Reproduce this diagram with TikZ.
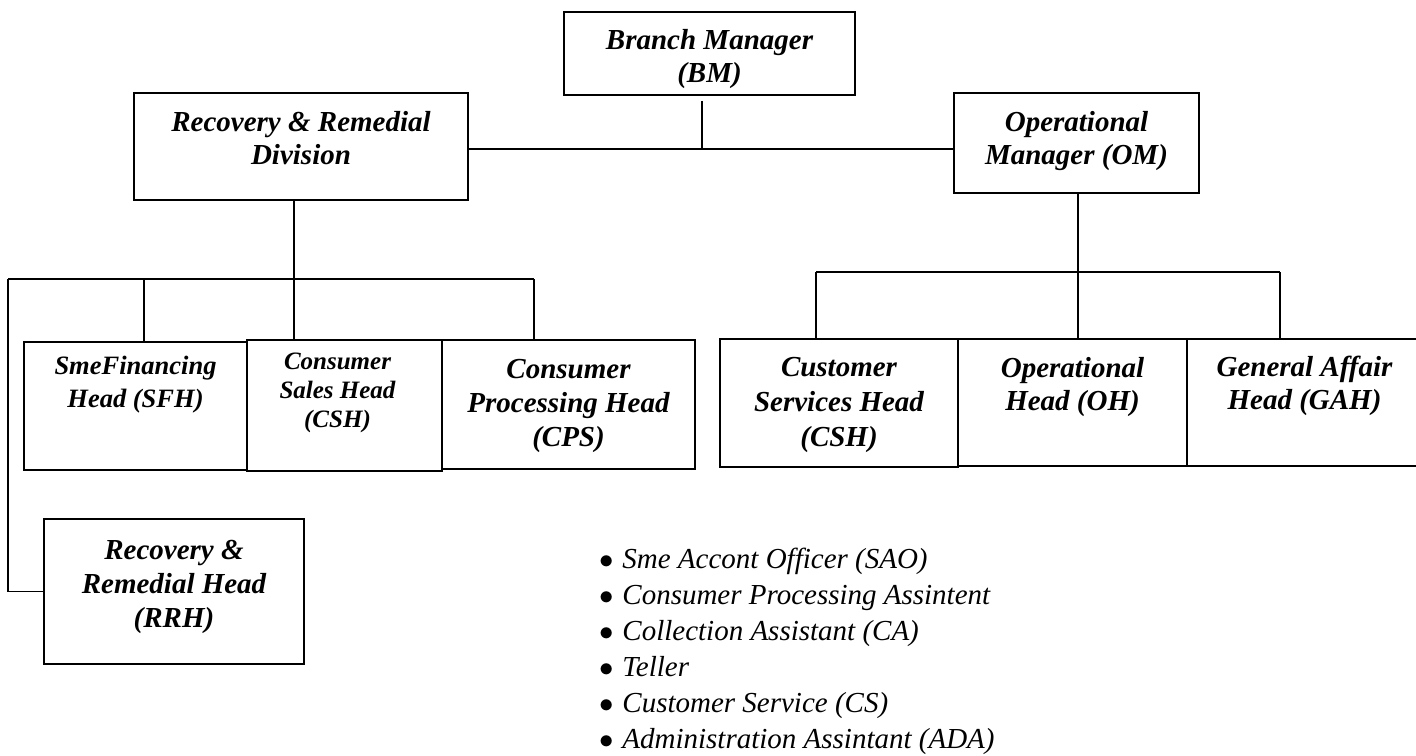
\documentclass[tikz,border=0pt]{standalone}
\usepackage{fontspec}
\setmainfont{Liberation Serif}
\usetikzlibrary{positioning}
\tikzset{
  unit/.style={draw, line width=0.9pt, inner sep=0pt},
  title/.style={inner sep=0pt, align=center, font=\bfseries\itshape\fontsize{14.5}{16.5}\selectfont},
  link/.style={line width=0.7pt},
  staff/.style={inner sep=0pt, anchor=base west, font=\itshape\fontsize{14.5}{18}\selectfont},
}
\begin{document}
\begin{tikzpicture}[x=0.5pt, y=-0.5pt]
\useasboundingbox (0,0) rectangle (1416,755);
% boxes
\node[unit, minimum width=145.5pt, minimum height=41.5pt] (bm) at (709.5,53.5) {};
\node[unit, minimum width=167pt, minimum height=53.5pt] (rrd) at (301,146.5) {};
\node[unit, minimum width=122.5pt, minimum height=50pt] (om) at (1076.5,143) {};
\node[unit, minimum width=111.5pt, minimum height=64pt] (sfh) at (135.5,406) {};
\node[unit, minimum width=97.5pt, minimum height=65.5pt] (csh) at (344.5,405.5) {};
\node[unit, minimum width=126.5pt, minimum height=64.5pt] (cps) at (568.5,404.5) {};
\node[unit, minimum width=119pt, minimum height=64pt] (cush) at (839,403) {};
\node[unit, minimum width=114.5pt, minimum height=63.5pt] (oh) at (1072.5,402.5) {};
\node[unit, minimum width=117.5pt, minimum height=63.5pt] (gah) at (1304.5,402.5) {};
\node[unit, minimum width=130pt, minimum height=72.5pt] (rrh) at (174,591.5) {};
% titles
\node[title, below=9pt of bm.north] (bmt) {Branch Manager\\(BM)};
\node[title, below=9.5pt of rrd.north] (rrdt) {Recovery \& Remedial\\Division};
\node[title, below=9.5pt of om.north] (omt) {Operational\\Manager (OM)};
\node[title, below=7.5pt of sfh.north, font=\bfseries\itshape\fontsize{13.25}{16.5}\selectfont] (sfht) {SmeFinancing\\Head (SFH)};
\node[title, below=6.5pt of csh.north, xshift=-3.5pt, font=\bfseries\itshape\fontsize{12.5}{14.5}\selectfont] (csht) {Consumer\\Sales Head\\(CSH)};
\node[title, below=10pt of cps.north, font=\bfseries\itshape\fontsize{14.5}{17}\selectfont] (cpst) {Consumer\\Processing Head\\(CPS)};
\node[title, below=9.5pt of cush.north, font=\bfseries\itshape\fontsize{14.5}{17.5}\selectfont] (cusht) {Customer\\Services Head\\(CSH)};
\node[title, below=9.5pt of oh.north] (oht) {Operational\\Head (OH)};
\node[title, below=9pt of gah.north] (gaht) {General Affair\\Head (GAH)};
\node[title, below=11pt of rrh.north, font=\bfseries\itshape\fontsize{14.5}{17}\selectfont] (rrht) {Recovery \&\\Remedial Head\\(RRH)};
% top level
\coordinate (bmfoot) at (702,149);
\draw[link] ([yshift=-2.5pt]bm.south -| bmfoot) -- (bmfoot);
\draw[link] (rrd.east |- bmfoot) -- (om.west |- bmfoot);
% recovery side
\coordinate (lbar) at (294,279);
\coordinate (lend) at (8,279);
\coordinate (rend) at (534,279);
\coordinate (sfhtop) at (144,279);
\draw[link] (rrd.south -| lbar) -- (lbar);
\draw[link] (lend) -- (rend);
\foreach \n/\c in {sfh/sfhtop, csh/lbar, cps/rend} \draw[link] (\c) -- (\c |- \n.north);
\draw[link] (lend) |- (rrh.west);
% operational side
\coordinate (rbar) at (1078,272);
\coordinate (rbl) at (816,272);
\coordinate (rbr) at (1280,272);
\draw[link] (om.south -| rbar) -- (rbar);
\draw[link] (rbl) -- (rbr);
\foreach \n/\c in {cush/rbl, oh/rbar, gah/rbr} \draw[link] (\c) -- (\c |- \n.north);
% staff list
\foreach \txt [count=\i] in {Sme Accont Officer (SAO), Consumer Processing Assintent,
  Collection Assistant (CA), Teller, Customer Service (CS), Administration Assintant (ADA)}
  \node[staff] (it\i) at (599,{568+36*(\i-1)}) {\makebox[11.5pt][l]{$\bullet$}\txt};
\end{tikzpicture}
\end{document}
